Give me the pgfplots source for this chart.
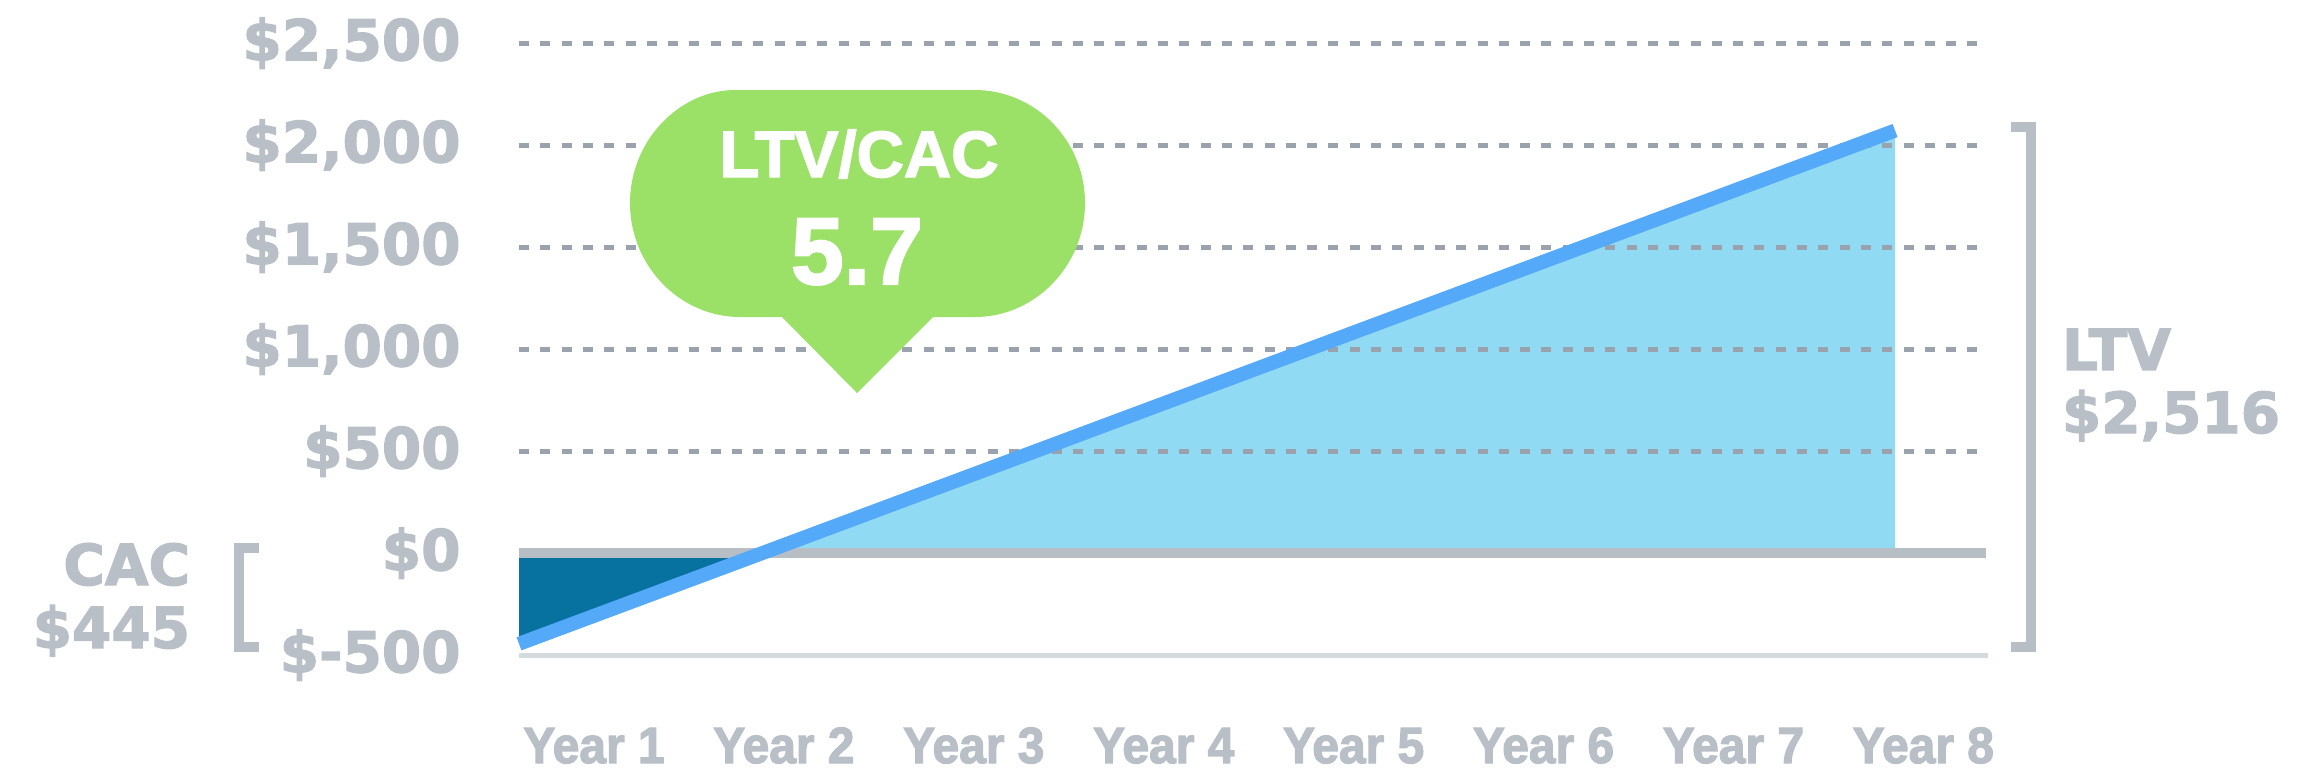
\documentclass[border=0pt]{standalone}
\usepackage{fontspec}
\setmainfont{Liberation Sans}[BoldFeatures={FakeBold=2.2}]
\newfontfamily\dvfont{DejaVu Sans}[BoldFeatures={FakeBold=2.2}]
\newfontfamily\yrfont{Liberation Sans}[FakeStretch=0.94, BoldFeatures={FakeBold=2.4}]
\usepackage{pgfplots}
\pgfplotsset{compat=1.18}

\definecolor{txtgray}{HTML}{B9BFC7}
\definecolor{gridgray}{HTML}{9AA2AD}
\definecolor{zerogray}{HTML}{B8BEC6}
\definecolor{basegray}{HTML}{D3DBDF}
\definecolor{cacblue}{HTML}{0771A0}
\definecolor{ltvfill}{HTML}{90DBF3}
\definecolor{lineblue}{HTML}{54AAF8}
\definecolor{bubble}{HTML}{9BE067}

\newcommand\lblfont{\dvfont\bfseries\fontsize{11.3}{13}\selectfont}

\begin{document}
\begin{tikzpicture}
\useasboundingbox (0pt,0pt) rectangle (460pt,-153.4pt);
\begin{axis}[
  at={(103.8pt,-131pt)}, anchor=south west,
  scale only axis, width=293.4pt, height=122.4pt,
  xmin=0.605, xmax=8.33, ymin=-500, ymax=2500,
  clip=false,
  axis line style={draw=none}, tick style={draw=none}, major tick length=0pt,
  xtick={1,2,3,4,5,6,7,8},
  xticklabels={Year 1,Year 2,Year 3,Year 4,Year 5,Year 6,Year 7,Year 8},
  ytick={-500,0,500,1000,1500,2000,2500},
  yticklabels={\$-500,\$0,\$500,{\$1,000},{\$1,500},{\$2,000},{\$2,500}},
  yticklabel style={anchor=east, inner sep=0pt, xshift=-11.5pt, font=\lblfont, text=txtgray},
  xticklabel style={anchor=base, inner sep=0pt, yshift=-21.6pt,
    font=\yrfont\bfseries\fontsize{10.2}{12}\selectfont, text=txtgray},
]
% CAC area (below zero) and LTV area (above zero)
\addplot[draw=none, fill=cacblue, mark=none] coordinates {(0.605,0) (0.605,-445) (1.887,0)} -- cycle;
\addplot[draw=none, fill=ltvfill, mark=none] coordinates {(1.887,0) (7.851,2071) (7.851,0)} -- cycle;

% dashed grid on top of the fills
\draw[gridgray, line width=1pt, dash pattern=on 2pt off 2.26pt] (axis cs:0.605,500) -- (axis cs:8.32,500);
\draw[gridgray, line width=1pt, dash pattern=on 2pt off 2.26pt] (axis cs:0.605,1000) -- (axis cs:8.32,1000);
\draw[gridgray, line width=1pt, dash pattern=on 2pt off 2.26pt] (axis cs:0.605,1500) -- (axis cs:8.32,1500);
\draw[gridgray, line width=1pt, dash pattern=on 2pt off 2.26pt] (axis cs:0.605,2000) -- (axis cs:8.32,2000);
\draw[gridgray, line width=1pt, dash pattern=on 2pt off 2.26pt] (axis cs:0.605,2500) -- (axis cs:8.32,2500);
\draw[basegray, line width=1pt] (axis cs:0.605,-500) -- (axis cs:8.34,-500);
\draw[zerogray, line width=2pt] (axis cs:0.605,0) -- (axis cs:8.33,0);

% cumulative value line
\addplot[lineblue, line width=2.8pt, mark=none] coordinates {(0.605,-445) (1.887,0) (7.851,2071)};
\end{axis}

\begin{scope}[x=0.2pt, y=-0.2pt]
% callout bubble
\fill[bubble] (735,90) -- (975,90) .. controls (1035,90) and (1085,140) .. (1085,203)
  .. controls (1085,266) and (1035,317) .. (975,317) -- (933,317) -- (857,393) -- (782,317)
  -- (740,317) .. controls (680,317) and (630,266) .. (630,203)
  .. controls (630,140) and (680,90) .. (735,90) -- cycle;
\node[anchor=base, text=white, inner sep=0pt, font=\bfseries\fontsize{13.1}{15}\selectfont] at (859,177) {LTV/CAC};
\node[anchor=base, text=white, inner sep=0pt, font=\bfseries\fontsize{19}{22}\selectfont] at (857,284) {5.7};

% brackets
\draw[zerogray, line width=2pt, line join=miter] (259,548) -- (239,548) -- (239,647) -- (259,647);
\draw[zerogray, line width=2pt, line join=miter] (2011,127) -- (2031,127) -- (2031,647) -- (2011,647);

\node[anchor=base east, text=txtgray, inner sep=0pt, font=\lblfont] at (191,585) {CAC};
\node[anchor=base east, text=txtgray, inner sep=0pt, font=\lblfont] at (191,648) {\$445};
\node[anchor=base west, text=txtgray, inner sep=0pt, font=\lblfont] at (2061,370) {LTV};
\node[anchor=base west, text=txtgray, inner sep=0pt, font=\lblfont] at (2061,433) {\$2,516};
\end{scope}
\end{tikzpicture}
\end{document}
